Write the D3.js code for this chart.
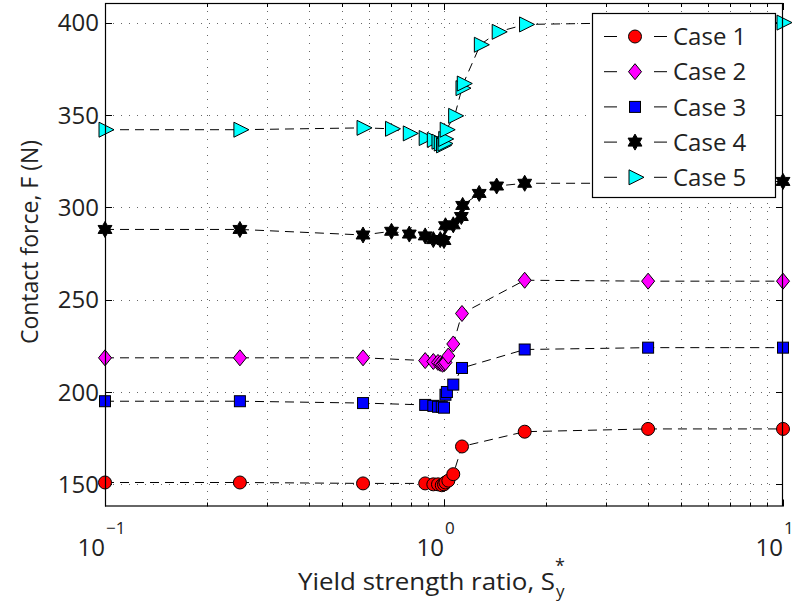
<!DOCTYPE html>
<html><head><meta charset="utf-8">
<script src="https://cdn.jsdelivr.net/npm/d3@7"></script>
<style>body{margin:0;background:#fff}svg{display:block}text{font-family:"Open Sans",sans-serif;fill:#222}</style>
</head><body><svg id="c" width="801" height="607"></svg>
<script>
const seriesNames = ["Case 1","Case 2","Case 3","Case 4","Case 5"];
const case1X = [0.1,0.25,0.577,0.88,0.93,0.96,0.985,1.0,1.01,1.03,1.065,1.13,1.73,4,10];
const case1Y = [151,151,150.5,150.5,150,150,149.5,150,151,152,155.5,170.5,178.5,180,180];
const case2X = [0.1,0.25,0.577,0.88,0.93,0.96,0.975,0.99,1.0,1.01,1.03,1.065,1.13,1.73,4,10];
const case2Y = [218.5,218.5,218.5,217,216.5,216,215.5,215,215.5,216,219.5,226,242.5,260.5,260,260];
const case3X = [0.1,0.25,0.577,0.88,0.93,0.96,0.985,1.0,1.01,1.02,1.065,1.13,1.73,4,10];
const case3Y = [195,195,194,193,192.5,192,192,191.5,198.5,200,204,213,223,224,224];
const case4X = [0.1,0.25,0.577,0.7,0.79,0.88,0.93,0.975,1.0,1.01,1.065,1.125,1.135,1.27,1.43,1.73,4,10];
const case4Y = [288,288,285,287,285.5,284.5,282.5,282.5,282,290,290.5,295,301,307.5,311.5,313,313,314];
const case5X = [0.1,0.25,0.577,0.7,0.79,0.88,0.93,0.96,0.975,0.99,1.0,1.005,1.015,1.075,1.13,1.14,1.28,1.445,1.74,4,10];
const case5Y = [342,342,343,342.5,340,337.5,336.5,335.5,334.5,333.5,334.5,337,342,349.5,364.5,367,388,395,399,400,400];
const yTicks = [150,200,250,300,350,400];
const xTickExps = ["\u22121","0","1"];
const xLabel = "Yield strength ratio, S";
const yLabel = "Contact force, F (N)";

const xs=[case1X,case2X,case3X,case4X,case5X], ys=[case1Y,case2Y,case3Y,case4Y,case5Y];
const colors=["#ff0000","#ff00ff","#0000ff","#000000","#00ffff"];
const shapes=["circle","diamond","square","hexagram","triangleRight"];

const svg=d3.select("#c");
const L=105,T=3,R=783,B=506.5;
const x=d3.scaleLog().domain([0.1,10]).range([L,R]);
const y=d3.scaleLinear().domain([138,410.6]).range([B,T]);

const xMajor=[0.1,1,10];
const xMinor=[];
[0.1,1].forEach(d=>{for(let k=2;k<=9;k++)xMinor.push(d*k);});

const grid=svg.append("g").attr("stroke","#666").attr("stroke-width",1).attr("stroke-dasharray","1,7");
xMajor.concat(xMinor).forEach(v=>{const px=Math.round(x(v))+0.5;
  if(v>0.1&&v<10) grid.append("line").attr("x1",px).attr("x2",px).attr("y1",T).attr("y2",B);});
yTicks.forEach(v=>{const py=Math.round(y(v))+0.5;
  grid.append("line").attr("x1",L).attr("x2",R).attr("y1",py).attr("y2",py);});

const tk=svg.append("g").attr("stroke","#000").attr("stroke-width",1);
xMajor.forEach(v=>{const px=Math.round(x(v))+0.5;
  tk.append("line").attr("x1",px).attr("x2",px).attr("y1",B).attr("y2",B-7);
  tk.append("line").attr("x1",px).attr("x2",px).attr("y1",T).attr("y2",T+7);});
xMinor.forEach(v=>{const px=Math.round(x(v))+0.5;
  tk.append("line").attr("x1",px).attr("x2",px).attr("y1",B).attr("y2",B-4);
  tk.append("line").attr("x1",px).attr("x2",px).attr("y1",T).attr("y2",T+4);});
yTicks.forEach(v=>{const py=Math.round(y(v))+0.5;
  tk.append("line").attr("x1",L).attr("x2",L+7).attr("y1",py).attr("y2",py);
  tk.append("line").attr("x1",R).attr("x2",R-7).attr("y1",py).attr("y2",py);});

yTicks.forEach(v=>{svg.append("text").attr("x",L-6).attr("y",y(v)).attr("dy","0.36em")
  .attr("text-anchor","end").attr("font-size",24).text(v);});
xMajor.forEach((v,i)=>{const t=svg.append("text").attr("x",x(v)).attr("y",556).attr("font-size",24).attr("text-anchor","end");
  t.append("tspan").text("10");
  svg.append("text").attr("x",x(v)+1).attr("y",534).attr("font-size",17).text(xTickExps[i]);});

const xl=svg.append("text").attr("x",298).attr("y",590).attr("font-size",24).attr("textLength",257).attr("lengthAdjust","spacingAndGlyphs");
xl.text(xLabel);
svg.append("text").attr("x",556).attr("y",597).attr("font-size",17).text("y");
svg.append("text").attr("x",555).attr("y",572).attr("font-size",18).text("*");
svg.append("text").attr("transform","translate(38,242) rotate(-90)").attr("text-anchor","middle").attr("font-size",23).text(yLabel);

function marker(g,shape,cx,cy,fill){
  let s;
  if(shape==="circle") s=g.append("circle").attr("cx",cx).attr("cy",cy).attr("r",6.5);
  else if(shape==="square") s=g.append("rect").attr("x",cx-5.5).attr("y",cy-5.5).attr("width",11).attr("height",11);
  else if(shape==="diamond") s=g.append("path").attr("d",`M${cx},${cy-8}L${cx+6.5},${cy}L${cx},${cy+8}L${cx-6.5},${cy}Z`);
  else if(shape==="triangleRight") s=g.append("path").attr("d",`M${cx-6},${cy-7.5}L${cx+9},${cy}L${cx-6},${cy+7.5}Z`);
  else {
    let p=[];for(let k=0;k<12;k++){const a=-Math.PI/2+k*Math.PI/6;const r=k%2===0?8:4.6;p.push([cx+r*Math.cos(a),cy+r*Math.sin(a)]);}
    s=g.append("path").attr("d","M"+p.map(q=>q.join(",")).join("L")+"Z");}
  s.attr("fill",fill).attr("stroke","#000").attr("stroke-width",1);
}

const line=d3.line().x(d=>x(d[0])).y(d=>y(d[1]));
for(let i=0;i<5;i++){
  const pts=xs[i].map((v,j)=>[v,ys[i][j]]);
  const g=svg.append("g");
  g.append("path").attr("d",line(pts)).attr("fill","none").attr("stroke","#000").attr("stroke-width",1).attr("stroke-dasharray","9,6");
  pts.forEach(p=>marker(g,shapes[i],x(p[0]),y(p[1]),colors[i]));
}

svg.append("rect").attr("x",L+0.5).attr("y",T+0.5).attr("width",R-L-1).attr("height",B-T-1).attr("fill","none").attr("stroke","#000").attr("stroke-width",1.2);

const lg=svg.append("g");
lg.append("rect").attr("x",592.5).attr("y",13.5).attr("width",183).attr("height",184).attr("fill","#fff").attr("stroke","#000").attr("stroke-width",1.2);
seriesNames.forEach((n,i)=>{const cy=36.5+i*35.2;
  lg.append("line").attr("x1",604).attr("x2",617).attr("y1",cy).attr("y2",cy).attr("stroke","#000");
  lg.append("line").attr("x1",654).attr("x2",667).attr("y1",cy).attr("y2",cy).attr("stroke","#000");
  marker(lg,shapes[i],635,cy,colors[i]);
  lg.append("text").attr("x",673).attr("y",cy).attr("dy","0.36em").attr("font-size",24).text(n);
});
</script></body></html>
